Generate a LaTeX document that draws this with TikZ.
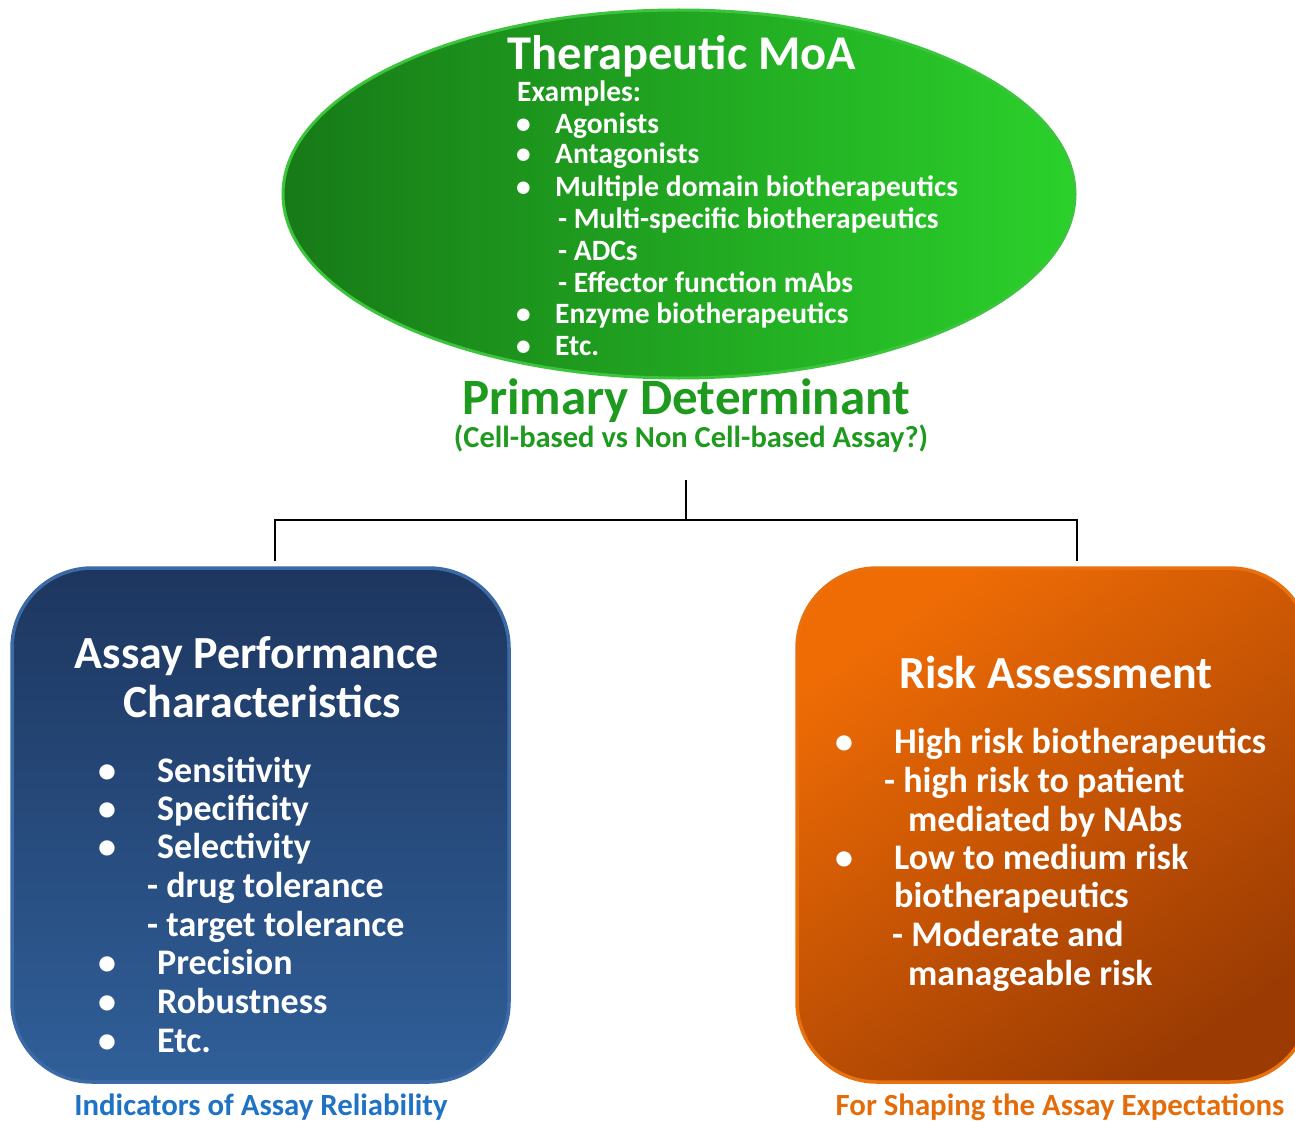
\documentclass[tikz,border=0pt]{standalone}
\usepackage{fontspec}
\setmainfont{Carlito}[BoldFont=Carlito Bold]
\definecolor{gdark}{HTML}{177A17}
\definecolor{glight}{HTML}{2BD12B}
\definecolor{gborder}{HTML}{3CC43C}
\definecolor{gtext}{HTML}{1E9A1E}
\definecolor{btop}{HTML}{1D365F}
\definecolor{bbot}{HTML}{305F99}
\definecolor{bborder}{HTML}{3C6AA6}
\definecolor{otop}{HTML}{EF6C05}
\definecolor{obot}{HTML}{9B3B03}
\definecolor{oborder}{HTML}{E8700E}
\definecolor{blabel}{HTML}{1F72C4}
\definecolor{olabel}{HTML}{E46C0A}
\tikzset{
  ln/.style={anchor=base west, inner sep=0pt, text=white, font=\bfseries\fontsize{#1}{#1}\selectfont},
  ctr/.style={anchor=base, inner sep=0pt, font=\bfseries\fontsize{#1}{#1}\selectfont},
  conn/.style={draw=black, line width=1.3pt}
}
\begin{document}
\begin{tikzpicture}[x=1pt,y=-1pt]
\useasboundingbox (0,0) rectangle (1295,1121);
\clip (0,0) rectangle (1295,1121);
% ellipse
\shade[left color=gdark, right color=glight, draw=gborder, line width=3pt] (679,194) ellipse [x radius=396, y radius=184];
\node[ctr=48.5, text=white] (moa) at (682,70) {Therapeutic MoA};
\node[ln=29.5] (ex) at (517,102) {Examples:};
\foreach \y/\t [count=\i] in {133/Agonists,164/Antagonists,196/Multiple domain biotherapeutics,323/Enzyme biotherapeutics,355/Etc.}{
  \node[ln=29.5] (eb\i) at (516,\y) {•};
  \node[ln=29.5] (et\i) at (555,\y) {\t};
}
\foreach \y/\t [count=\i] in {228/Multi-specific biotherapeutics,260/ADCs,292/Effector function mAbs}{
  \node[ln=29.5] (es\i) at (558,\y) {- \t};
}
\node[ctr=51, text=gtext] (pd) at (686,414) {Primary Determinant};
\node[ctr=30.5, text=gtext] (pds) at (691,447) {(Cell-based vs Non Cell-based Assay?)};
% connectors
\coordinate (c0) at (686,480);
\coordinate (c1) at (686,520);
\coordinate (cl) at (275,520);
\coordinate (cr) at (1077,520);
\coordinate (cl2) at (275,561);
\coordinate (cr2) at (1077,561);
\draw[conn] (c0) -- (c1);
\draw[conn] (cl2) -- (cl) -- (cr) -- (cr2);
% left box
\shade[top color=btop, bottom color=bbot, draw=bborder, line width=3.5pt, rounded corners=80pt] (12,568) rectangle (509,1082);
\node[ctr=46, text=white] (apc1) at (257,668) {Assay Performance};
\node[ctr=46, text=white] (apc2) at (262,717) {Characteristics};
\foreach \y/\t [count=\i] in {782/Sensitivity,820/Specificity,858/Selectivity,974/Precision,1013/Robustness,1052/Etc.}{
  \node[ln=36] (lb\i) at (98,\y) {•};
  \node[ln=36] (lt\i) at (157,\y) {\t};
}
\node[ln=36] (ls1) at (147,897) {- drug tolerance};
\node[ln=36] (ls2) at (147,936) {- target tolerance};
\node[ctr=30.8, text=blabel] (ind) at (261,1115) {Indicators of Assay Reliability};
% right box
\shade[top color=otop, bottom color=obot, shading angle=35, draw=oborder, line width=3.5pt, rounded corners=80pt] (797,568) rectangle (1310,1082);
\node[ctr=46, text=white] (ra) at (1056,688) {Risk Assessment};
\node[ln=36] (rb1) at (835,753) {•};
\node[ln=36] (rt1) at (894,753) {High risk biotherapeutics};
\node[ln=36] (rs1) at (884,792) {- high risk to patient};
\node[ln=36] (rs2) at (908,831) {mediated by NAbs};
\node[ln=36] (rb2) at (835,869) {•};
\node[ln=36] (rt2) at (894,869) {Low to medium risk};
\node[ln=36] (rt3) at (894,907) {biotherapeutics};
\node[ln=36] (rs3) at (892,946) {- Moderate and};
\node[ln=36] (rs4) at (908,985) {manageable risk};
\node[ctr=30.8, text=olabel] (shp) at (1060,1115) {For Shaping the Assay Expectations};
\end{tikzpicture}
\end{document}
